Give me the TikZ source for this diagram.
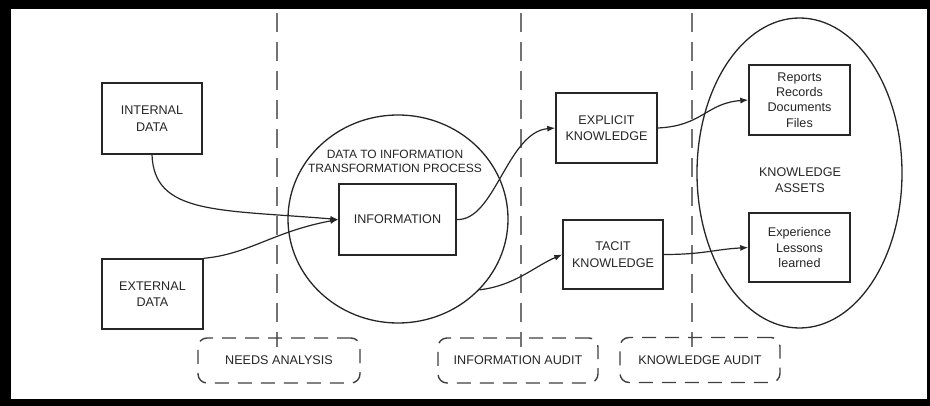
\documentclass[tikz,border=0pt]{standalone}
\usepackage{fontspec}
\setmainfont{Liberation Sans}
\usetikzlibrary{shapes.geometric,arrows.meta}
\begin{document}
\begin{tikzpicture}[x=1pt,y=-1pt,
  every node/.style={font=\fontsize{12.6}{16.5}\selectfont, text=black!85},
  box/.style={draw=black!85, line width=1.4pt, rectangle, inner sep=0pt, align=center},
  oval/.style={draw=black!85, line width=1.3pt, ellipse, inner sep=0pt},
  audit/.style={draw=black!75, line width=1.4pt, dash pattern=on 14pt off 9pt, rounded corners=9pt, rectangle, inner sep=0pt, minimum width=160pt, minimum height=45pt},
  divider/.style={draw=black!55, line width=1.8pt, dash pattern=on 19pt off 10pt},
  arr/.style={draw=black!85, line width=1.2pt, -{Latex[length=8pt,width=6pt]}},
  lab/.style={inner sep=0pt, align=center}
]
% frame
\fill[black] (0,0) rectangle (930,406);
\fill[white] (11,9) rectangle (927,399);
\useasboundingbox (0,0) rectangle (930,406);

% vertical dividers
\coordinate (d1t) at (277,13); \coordinate (d1b) at (277,347);
\coordinate (d2t) at (521,13); \coordinate (d2b) at (521,347);
\coordinate (d3t) at (692,13); \coordinate (d3b) at (692,347);
\draw[divider] (d1t) -- (d1b);
\draw[divider] (d2t) -- (d2b);
\draw[divider] (d3t) -- (d3b);

% ellipses
\node[oval, minimum width=220pt, minimum height=208pt] (circ) at (398,219) {};
\node[oval, minimum width=205pt, minimum height=310pt] (assets) at (799.5,173) {};

% boxes
\node[box, minimum width=100pt, minimum height=71pt] (int) at (152,118.5) {INTERNAL\\DATA};
\node[box, minimum width=101pt, minimum height=70pt] (ext) at (152.5,294) {EXTERNAL\\DATA};
\node[box, minimum width=117pt, minimum height=71pt] (info) at (397.5,219.5) {INFORMATION};
\node[box, minimum width=101pt, minimum height=70pt] (expl) at (606.5,128) {EXPLICIT\\KNOWLEDGE};
\node[box, minimum width=100pt, minimum height=69pt] (tacit) at (613,254.5) {TACIT\\KNOWLEDGE};
\node[box, minimum width=101pt, minimum height=70pt, font=\fontsize{12.6}{15.3}\selectfont] (rep) at (799.5,100) {Reports\\Records\\Documents\\Files};
\node[box, minimum width=101pt, minimum height=69pt, font=\fontsize{12.6}{15.3}\selectfont] (expe) at (799.5,247.5) {Experience\\Lessons\\learned};

% labels
\node[lab, font=\fontsize{12}{14}\selectfont] (proc) at (395,161) {DATA TO INFORMATION\\TRANSFORMATION PROCESS};
\node[lab] (ka) at (800,180) {KNOWLEDGE\\ASSETS};

% audit boxes
\node[audit, minimum width=162pt] (na) at (279,360.5) {NEEDS ANALYSIS};
\node[audit] (ia) at (518,360.5) {INFORMATION AUDIT};
\node[audit] (kau) at (700,360) {KNOWLEDGE AUDIT};

% connectors
\draw[arr] (int.south) .. controls +(2,60) and +(-120,-10) .. (info.west);
\draw[arr] (ext.north east) .. controls +(45,-4) and +(-65,12) .. (info.west);
\draw[arr] (info.east) .. controls +(38,2) and +(-48,4) .. (expl.west);
\draw[arr] (circ.-41) .. controls +(35,-4) and +(-28,12) .. (tacit.west);
\draw[arr] (expl.east) .. controls +(45,-2) and +(-42,3) .. (rep.west);
\draw[arr] (tacit.east) .. controls +(40,0) and +(-35,2) .. (expe.west);
\end{tikzpicture}
\end{document}
